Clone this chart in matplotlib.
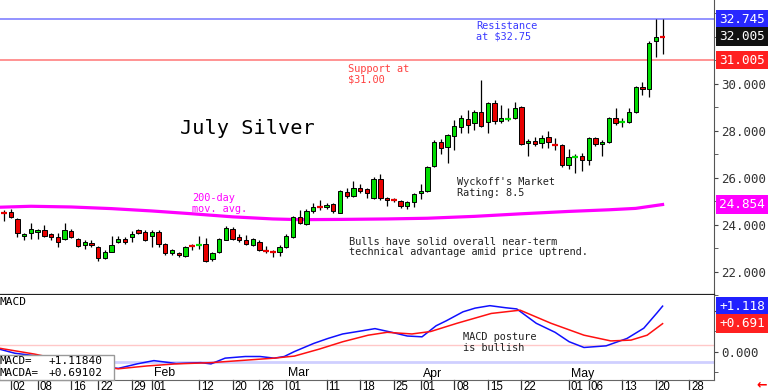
import numpy as np
import pandas as pd
import matplotlib
matplotlib.use("Agg")
import matplotlib.pyplot as plt
from matplotlib.patches import Rectangle
from matplotlib.transforms import blended_transform_factory

# ---- data -------------------------------------------------------------
# trading days, Dec 29 2023 onward (exchange holidays skipped)
holidays = ["2024-01-01", "2024-01-15", "2024-02-19", "2024-03-29", "2024-05-27"]
days = pd.bdate_range("2023-12-29", "2024-06-14", freq="C", holidays=holidays)

opens = [24.52,
         24.52, 24.24, 23.53, 23.64, 23.70, 23.75, 23.58, 23.47, 23.39, 23.72, 23.39,
         23.13, 23.22, 23.05, 22.57, 22.85, 23.24, 23.39, 23.47, 23.75, 23.67,
         23.53, 23.70, 23.19, 22.80, 22.80, 22.66, 23.09, 23.12, 23.19, 22.52, 22.82,
         23.36, 23.83, 23.47, 23.33, 23.13, 23.27, 22.89, 22.86, 22.85,
         23.05, 23.47, 24.31, 24.03, 24.59, 24.74, 24.73, 24.87, 24.51, 25.40, 25.23,
         25.54, 25.51, 25.15, 25.96, 25.12, 25.07, 25.00, 24.81, 24.96,
         25.34, 25.43, 26.49, 27.52, 27.30, 27.78, 28.17, 28.48, 28.31, 28.78, 28.39,
         29.20, 28.42, 28.49, 28.56, 29.01, 27.47, 27.58, 27.47, 27.72, 27.42, 27.41,
         26.52, 26.87, 26.91, 26.77, 27.67, 27.44, 27.50, 28.53, 28.35, 28.36, 28.81,
         29.85, 29.76, 31.80, 32.01]
highs = [24.60,
         24.68, 24.26, 23.64, 24.08, 23.82, 24.00, 23.64, 23.64, 24.08, 23.80, 23.42,
         23.33, 23.33, 23.08, 22.91, 23.50, 23.50, 23.47, 23.72, 23.80, 23.78,
         23.75, 23.78, 23.22, 22.97, 22.85, 23.08, 23.19, 23.53, 23.42, 22.82, 23.44,
         23.92, 23.89, 23.58, 23.55, 23.44, 23.33, 23.10, 22.91, 23.13,
         23.58, 24.37, 24.62, 24.68, 24.90, 25.06, 24.93, 24.93, 25.48, 25.54, 25.85,
         25.74, 25.57, 26.04, 26.15, 25.17, 25.12, 25.06, 25.01, 25.35,
         25.74, 26.50, 27.60, 27.66, 27.86, 28.45, 28.67, 28.87, 28.87, 30.15, 29.23,
         29.32, 29.09, 28.95, 29.23, 29.04, 27.66, 27.75, 27.83, 27.97, 27.69, 27.44,
         27.22, 27.02, 27.05, 27.72, 27.75, 27.60, 28.59, 28.98, 28.53, 28.98, 29.90,
         30.07, 31.80, 32.74, 32.74]
lows = [24.17,
        24.30, 23.47, 23.33, 23.38, 23.38, 23.47, 23.36, 23.05, 23.36, 23.42, 23.05,
        22.97, 23.05, 22.43, 22.54, 22.82, 23.20, 23.19, 23.27, 23.61, 23.30,
        23.05, 23.05, 22.71, 22.71, 22.63, 22.60, 22.91, 22.94, 22.40, 22.43, 22.80,
        23.33, 23.36, 23.27, 23.13, 23.10, 22.88, 22.80, 22.60, 22.66,
        22.99, 23.44, 24.03, 23.97, 24.48, 24.62, 24.65, 24.48, 24.48, 25.15, 25.17,
        25.34, 25.12, 25.09, 25.04, 24.79, 24.96, 24.70, 24.68, 24.73,
        25.09, 25.40, 26.45, 27.02, 26.63, 27.19, 27.89, 27.89, 28.03, 28.14, 27.89,
        28.28, 28.34, 28.42, 28.50, 27.38, 26.94, 27.33, 27.27, 27.27, 27.19, 26.44,
        26.35, 26.21, 26.30, 26.52, 27.33, 26.94, 27.47, 28.23, 28.14, 28.31, 28.76,
        29.51, 29.43, 31.13, 31.25]
closes = [24.51,
          24.33, 23.64, 23.61, 23.82, 23.78, 23.53, 23.47, 23.27, 23.78, 23.47, 23.10,
          23.27, 23.13, 22.57, 22.85, 23.13, 23.39, 23.24, 23.61, 23.64, 23.33,
          23.70, 23.19, 22.80, 22.91, 22.69, 23.05, 23.08, 23.13, 22.46, 22.77, 23.39,
          23.86, 23.39, 23.33, 23.19, 23.39, 22.91, 22.88, 22.85, 23.05,
          23.53, 24.31, 24.08, 24.59, 24.73, 24.73, 24.84, 24.56, 25.45, 25.21, 25.57,
          25.43, 25.34, 25.96, 25.12, 25.04, 25.06, 24.81, 24.96, 25.29,
          25.43, 26.46, 27.52, 27.27, 27.83, 28.20, 28.53, 28.25, 28.78, 28.20, 29.20,
          28.42, 28.53, 28.50, 28.98, 27.44, 27.58, 27.44, 27.69, 27.50, 27.41, 26.52,
          26.88, 26.88, 26.74, 27.67, 27.44, 27.52, 28.56, 28.34, 28.36, 28.81, 29.85,
          29.76, 31.75, 32.00, 32.005]

# 200-day moving average, read at a few days
ma_day = [-0.6, 4, 10, 16, 22, 28, 34, 40, 44, 50, 57, 63, 70, 77, 84, 90, 94, 98]
ma_val = [24.74, 24.78, 24.75, 24.68, 24.58, 24.46, 24.33, 24.24, 24.21, 24.22,
          24.24, 24.27, 24.35, 24.46, 24.56, 24.63, 24.69, 24.854]

# MACD (blue) and its average (red)
macd_day = [-0.6, 1.6, 6.1, 11.3, 17.0, 19.8, 22.3, 25.6, 29.3, 30.8, 32.9, 35.9,
            38.1, 40.2, 41.7, 43.2, 46.1, 48.2, 50.4, 53.4, 55.2, 57.7, 60.0, 62.2,
            64.3, 65.8, 68.3, 70.1, 72.3, 74.6, 76.3, 79.2, 82.0, 84.1, 86.3, 89.6,
            92.7, 95.2, 97.2, 98.0]
macd_val = [0.065, -0.03, -0.12, -0.30, -0.40, -0.29, -0.21, -0.28, -0.26, -0.29,
            -0.15, -0.11, -0.11, -0.15, -0.11, 0.01, 0.21, 0.33, 0.44, 0.52, 0.57,
            0.48, 0.39, 0.37, 0.64, 0.76, 0.98, 1.07, 1.13, 1.08, 1.05, 0.70, 0.48,
            0.25, 0.11, 0.15, 0.33, 0.58, 0.96, 1.1184]
sig_day = [-0.6, 4.5, 8.3, 12.8, 17.0, 21.3, 25.6, 30.8, 35.9, 40.2, 43.2, 46.9,
           50.4, 54.2, 57.0, 60.7, 63.5, 67.4, 72.5, 76.8, 81.4, 86.3, 90.3, 93.3,
           95.7, 98.0]
sig_val = [0.09, -0.05, -0.18, -0.32, -0.41, -0.34, -0.29, -0.26, -0.20, -0.15,
           -0.10, 0.07, 0.25, 0.41, 0.48, 0.44, 0.50, 0.70, 0.94, 1.02, 0.70, 0.41,
           0.27, 0.29, 0.41, 0.69102]

resistance = 32.745
support = 31.005
price_ticks = [22, 24, 26, 28, 30]
tick_dates = ["2024-01-02", "2024-01-08", "2024-01-16", "2024-01-22", "2024-01-29",
              "2024-02-01", "2024-02-12", "2024-02-20", "2024-02-26", "2024-03-01",
              "2024-03-11", "2024-03-18", "2024-03-25", "2024-04-01", "2024-04-08",
              "2024-04-15", "2024-04-22", "2024-05-01", "2024-05-06", "2024-05-13",
              "2024-05-20", "2024-05-28"]
month_starts = ["2024-02-01", "2024-03-01", "2024-04-01", "2024-05-01"]

# ---- layout -----------------------------------------------------------
plt.rcParams['font.family'] = ['DejaVu Sans Mono']
W, H = 768, 390
AXR = 714
GREEN, RED = '#00dd00', '#e80000'

fig = plt.figure(figsize=(W / 100, H / 100), dpi=100)
ax = fig.add_axes([0, 1 - 295 / H, AXR / W, 295 / H])
axm = fig.add_axes([0, 1 - 380 / H, AXR / W, 85 / H])


def ftext(xp, yp, s, **kws):
    """Text at figure pixel position (top-left origin)."""
    return fig.text(xp / W, 1 - yp / H, s, **kws)


for a in (ax, axm):
    a.set_xlim(-0.6, 105.65)
    a.set_facecolor('white')
    a.spines['top'].set_visible(False)
    a.spines['left'].set_visible(False)
    a.spines['right'].set_color('#555555')
    a.yaxis.tick_right()
    a.set_xticks([])
    a.tick_params(axis='y', which='both', direction='out', colors='#444444',
                  labelcolor='#333333', labelsize=9, pad=2, length=3)
ax.spines['bottom'].set_color('#222222')
ax.spines['bottom'].set_linewidth(1.6)
axm.spines['bottom'].set_color('#666666')

# ---- price panel ------------------------------------------------------
ax.set_ylim(21.188, 33.567)
ax.set_yticks(price_ticks)
ax.set_yticklabels(["%.3f" % v for v in price_ticks])
ax.set_yticks(np.arange(21, 34), minor=True)

ax.axhline(resistance, color='#8080ff', lw=1.2, zorder=2)
ax.axhline(support, color='#ff8080', lw=1.2, zorder=2)
ax.plot(ma_day, ma_val, color='#ff00ff', lw=2.3, zorder=2)

x = np.arange(len(closes))
o, h, l, c = (np.array(v) for v in (opens, highs, lows, closes))
cols = np.where(c >= o, GREEN, RED)
doji = np.abs(c - o) < 0.02
ax.vlines(x, l, h, color='black', lw=0.9, zorder=3)
ax.bar(x[~doji], np.abs(c - o)[~doji], bottom=np.minimum(o, c)[~doji], width=0.64,
       color=cols[~doji], edgecolor='black', linewidth=0.7, zorder=4)
ax.hlines(c[doji], x[doji] - 0.42, x[doji] + 0.42, colors=cols[doji], lw=1.6, zorder=4)

# ---- MACD panel -------------------------------------------------------
axm.set_ylim(-0.683, 1.390)
axm.set_yticks([0, 1])
axm.set_yticklabels(["0.000", "1.000"])
axm.set_yticks([-0.5, 0.5], minor=True)
axm.axhline(0.17, color='#ffc8c8', lw=1.0, zorder=1)
axm.axhline(-0.24, color='#cfcfff', lw=2.0, zorder=1)
axm.plot(macd_day, macd_val, color='#1010ff', lw=1.1, zorder=3)
axm.plot(sig_day, sig_val, color='#ff1010', lw=1.1, zorder=3)

axm.add_patch(Rectangle((-1 / AXR, 0), 115 / AXR, 25 / 85, transform=axm.transAxes,
                        facecolor='white', edgecolor='#999999', lw=1.0, zorder=5,
                        clip_on=False))
ftext(0, 361.5, "MACD=", fontsize=7.8, va='center', zorder=6)
ftext(0, 372.5, "MACDA=", fontsize=7.8, va='center', zorder=6)
ftext(49, 361.5, "%+.5f" % macd_val[-1], fontsize=8, va='center', zorder=6)
ftext(49, 372.5, "%+.5f" % sig_val[-1], fontsize=8, va='center', zorder=6)
ftext(0, 302, "MACD", fontsize=8, va='center')

# ---- date axis --------------------------------------------------------
bt = blended_transform_factory(axm.transData, axm.transAxes)
for d in tick_dates:
    p = days.get_loc(pd.Timestamp(d))
    axm.plot([p, p], [0, -0.14], color='#333333', lw=0.9, transform=bt, clip_on=False)
    xp = axm.transData.transform((p, 0))[0]
    ftext(xp + 2, 381.5, pd.Timestamp(d).strftime('%d'), fontsize=8.3, va='top',
          family='Liberation Sans')
for d in month_starts:
    p = days.get_loc(pd.Timestamp(d))
    xp = axm.transData.transform((p, 0))[0]
    ftext(xp + 2, 373.5, pd.Timestamp(d).strftime('%b'), fontsize=8.8, va='center',
          family='Liberation Sans')
ftext(756, 385, "\u2190", fontsize=9, color='red', fontweight='bold', va='center',
      family='DejaVu Sans')


# ---- right-side value boxes ------------------------------------------
def value_box(a, val, text, color):
    tr = blended_transform_factory(fig.transFigure, a.transData)
    a.text(719 / W, val, text, transform=tr, color='white', fontsize=9.2,
           va='center', ha='left', zorder=10, clip_on=False,
           bbox=dict(boxstyle='square,pad=0.22', fc=color, ec='none'))


value_box(ax, resistance, "%.3f" % resistance, '#2828ff')
value_box(ax, closes[-1], "%.3f" % closes[-1], '#111111')
value_box(ax, support, "%.3f" % support, '#ff2020')
value_box(ax, ma_val[-1], "%.3f" % ma_val[-1], '#ff00ff')
value_box(axm, macd_val[-1], "%+.3f" % macd_val[-1], '#2020ff')
value_box(axm, sig_val[-1], "%+.3f" % sig_val[-1], '#ff2020')

# ---- annotations ------------------------------------------------------
ftext(180, 128, "July Silver", fontsize=14.6, va='center', color='black')
notes = [
    (476, 26, "Resistance", '#3a3aff'), (476, 36.5, "at $32.75", '#3a3aff'),
    (348, 69, "Support at", '#ff4040'), (348, 79, "$31.00", '#ff4040'),
    (192, 198, "200-day", '#ff00ff'), (192, 209, "mov. avg.", '#ff00ff'),
    (457, 182, "Wyckoff's Market", '#222222'), (457, 192.5, "Rating: 8.5", '#222222'),
    (349, 242, "Bulls have solid overall near-term", '#222222'),
    (349, 252.3, "technical advantage amid price uptrend.", '#222222'),
    (463, 337.5, "MACD posture", '#222222'), (463, 347.7, "is bullish", '#222222'),
]
for xp, yp, s, col in notes:
    ftext(xp, yp, s, fontsize=7.4, va='center', color=col)

fig.savefig("out.png", dpi=100)
